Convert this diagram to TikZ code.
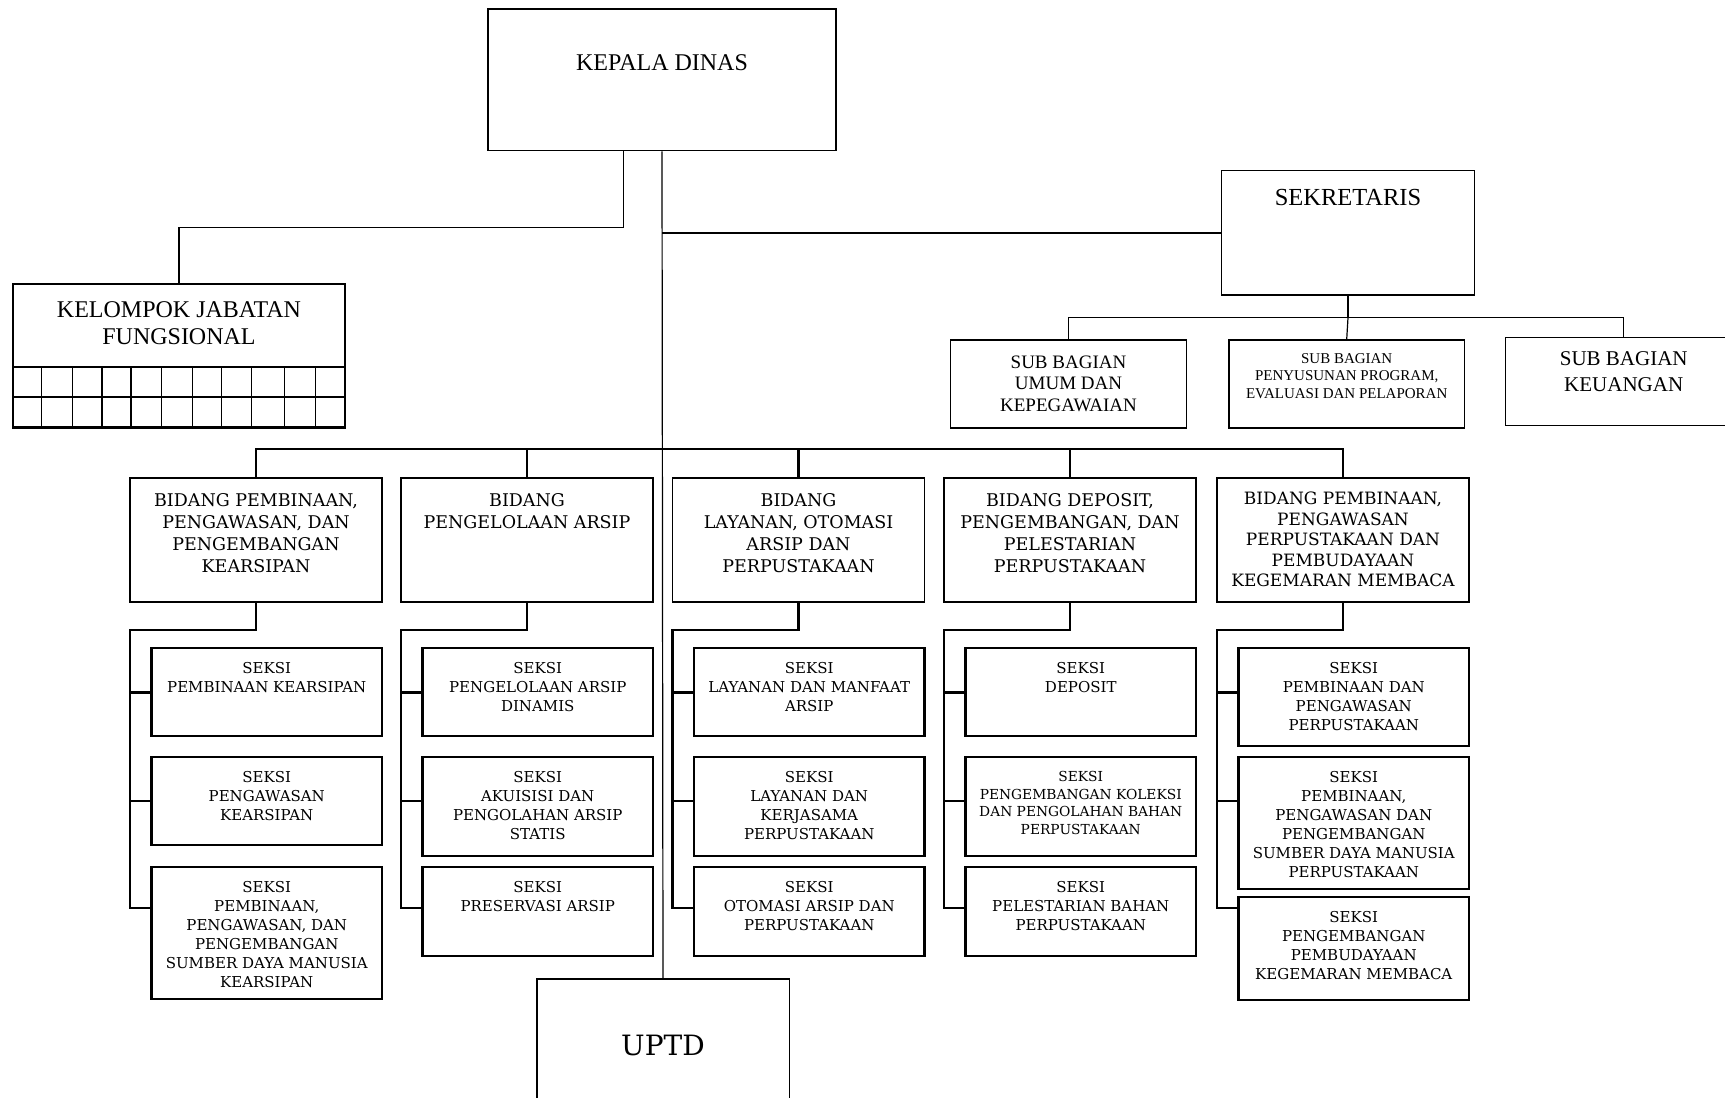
\documentclass[tikz,border=0pt]{standalone}
\usepackage{fontspec}
\usepackage{tikz}
\newfontfamily\tms{Liberation Serif}
\newfontfamily\dvs{DejaVu Serif}

\begin{document}
\begin{tikzpicture}[x=1pt,y=-1pt,
	tipis/.style={line width=1.2pt},
	tebal/.style={line width=2.2pt},
	kotak/.style={draw,line width=1.3pt,inner sep=0pt},
	bidang/.style={kotak,minimum width=252pt,minimum height=124pt},
	seksi/.style={draw,line width=2.2pt,inner sep=0pt,minimum width=230.5pt},
	teks/.style={anchor=north,align=center,inner sep=0pt},
	fb/.style={font=\dvs\fontsize{17.5}{21.9}\selectfont},
	fs/.style={font=\dvs\fontsize{15}{19}\selectfont}]
	\useasboundingbox (0,0) rectangle (1725,1098);
	\clip (0,0) rectangle (1725,1098);

	% pimpinan
	\node[kotak,minimum width=348pt,minimum height=141.7pt,
		label={[teks,yshift=-46pt,font=\tms\fontsize{24}{28}\selectfont]north:KEPALA DINAS}] (kd) at (662,79.8) {};
	\node[kotak,minimum width=332pt,minimum height=143pt,
		label={[teks,yshift=-18pt,font=\tms\fontsize{24}{27}\selectfont]north:{KELOMPOK JABATAN\\FUNGSIONAL}}] (kjf) at (179,355.5) {};
	\node[kotak,minimum width=252.7pt,minimum height=124.3pt,
		label={[teks,yshift=-19pt,font=\tms\fontsize{24.5}{28}\selectfont]north:SEKRETARIS}] (sek) at (1348,232.9) {};
	\node[kotak,minimum width=252.3pt,minimum height=132pt,font=\dvs\fontsize{28}{32}\selectfont] (uptd) at (663,1045) {UPTD};

	% kotak fungsional
	\draw[tebal] (kjf.west |- 0,367) -- (kjf.east |- 0,367);
	\draw[tipis] (kjf.west |- 0,397) -- (kjf.east |- 0,397);
	\draw[tebal] (kjf.south west) -- (kjf.south east);
	\foreach \x in {41.8,72.8,102,131,161.6,192.6,221.8,251.6,284.8,315.8}
		\draw[tipis] (\x,367) -- (\x,427);

	% sub bagian
	\node[kotak,minimum width=236pt,minimum height=88pt,
		label={[teks,yshift=-16pt,font=\tms\fontsize{19}{21.8}\selectfont]north:{SUB BAGIAN\\UMUM DAN\\KEPEGAWAIAN}}] (sb1) at (1068.5,384) {};
	\node[kotak,minimum width=235.4pt,minimum height=88pt,
		label={[teks,yshift=-14pt,font=\tms\fontsize{15}{17.5}\selectfont]north:{SUB BAGIAN\\PENYUSUNAN PROGRAM,\\EVALUASI DAN PELAPORAN}}] (sb2) at (1346.7,384) {};
	\node[kotak,minimum width=236pt,minimum height=88.4pt,
		label={[teks,yshift=-15pt,font=\tms\fontsize{21}{26}\selectfont]north:{SUB BAGIAN\\KEUANGAN}}] (sb3) at (1623.7,381.5) {};

	% bidang
	\node[bidang,label={[teks,fb,yshift=-16.3pt]north:{BIDANG PEMBINAAN,\\PENGAWASAN, DAN\\PENGEMBANGAN\\KEARSIPAN}}] (b1) at (256,540) {};
	\node[bidang,label={[teks,fb,yshift=-16.3pt]north:{BIDANG\\PENGELOLAAN ARSIP}}] (b2) at (527,540) {};
	\node[bidang,label={[teks,fb,yshift=-16.3pt]north:{BIDANG\\LAYANAN, OTOMASI\\ARSIP DAN\\PERPUSTAKAAN}}] (b3) at (798.5,540) {};
	\node[bidang,label={[teks,fb,yshift=-16.3pt]north:{BIDANG DEPOSIT,\\PENGEMBANGAN, DAN\\PELESTARIAN\\PERPUSTAKAAN}}] (b4) at (1070,540) {};
	\node[bidang,label={[teks,yshift=-14.7pt,font=\dvs\fontsize{17}{20.5}\selectfont]north:{BIDANG PEMBINAAN,\\PENGAWASAN\\PERPUSTAKAAN DAN\\PEMBUDAYAAN\\KEGEMARAN MEMBACA}}] (b5) at (1343,540) {};

	% seksi
	\node[seksi,minimum height=88pt,label={[teks,fs,yshift=-15pt]north:{SEKSI\\PEMBINAAN KEARSIPAN}}] (s11) at (266.75,692) {};
	\node[seksi,minimum height=88pt,label={[teks,fs,yshift=-15pt]north:{SEKSI\\PENGAWASAN\\KEARSIPAN}}] (s12) at (266.75,801) {};
	\node[seksi,minimum height=132pt,label={[teks,fs,yshift=-15pt]north:{SEKSI\\PEMBINAAN,\\PENGAWASAN, DAN\\PENGEMBANGAN\\SUMBER DAYA MANUSIA\\KEARSIPAN}}] (s13) at (266.75,933) {};

	\node[seksi,minimum height=88pt,label={[teks,fs,yshift=-15pt]north:{SEKSI\\PENGELOLAAN ARSIP\\DINAMIS}}] (s21) at (537.75,692) {};
	\node[seksi,minimum height=99pt,label={[teks,fs,yshift=-15pt]north:{SEKSI\\AKUISISI DAN\\PENGOLAHAN ARSIP\\STATIS}}] (s22) at (537.75,806.5) {};
	\node[seksi,minimum height=89pt,label={[teks,fs,yshift=-15pt]north:{SEKSI\\PRESERVASI ARSIP}}] (s23) at (537.75,911.5) {};

	\node[seksi,minimum height=88pt,label={[teks,fs,yshift=-15pt]north:{SEKSI\\LAYANAN DAN MANFAAT\\ARSIP}}] (s31) at (809.25,692) {};
	\node[seksi,minimum height=99pt,label={[teks,fs,yshift=-15pt]north:{SEKSI\\LAYANAN DAN\\KERJASAMA\\PERPUSTAKAAN}}] (s32) at (809.25,806.5) {};
	\node[seksi,minimum height=89pt,label={[teks,fs,yshift=-15pt]north:{SEKSI\\OTOMASI ARSIP DAN\\PERPUSTAKAAN}}] (s33) at (809.25,911.5) {};

	\node[seksi,minimum height=88pt,label={[teks,fs,yshift=-15pt]north:{SEKSI\\DEPOSIT}}] (s41) at (1080.75,692) {};
	\node[seksi,minimum height=99pt,label={[teks,yshift=-15pt,font=\dvs\fontsize{13.8}{17.8}\selectfont]north:{SEKSI\\PENGEMBANGAN KOLEKSI\\DAN PENGOLAHAN BAHAN\\PERPUSTAKAAN}}] (s42) at (1080.75,806.5) {};
	\node[seksi,minimum height=89pt,label={[teks,fs,yshift=-15pt]north:{SEKSI\\PELESTARIAN BAHAN\\PERPUSTAKAAN}}] (s43) at (1080.75,911.5) {};

	\node[seksi,minimum height=98pt,label={[teks,fs,yshift=-15pt]north:{SEKSI\\PEMBINAAN DAN\\PENGAWASAN\\PERPUSTAKAAN}}] (s51) at (1353.75,697) {};
	\node[seksi,minimum height=132pt,label={[teks,fs,yshift=-15pt]north:{SEKSI\\PEMBINAAN,\\PENGAWASAN DAN\\PENGEMBANGAN\\SUMBER DAYA MANUSIA\\PERPUSTAKAAN}}] (s52) at (1353.75,823) {};
	\node[seksi,minimum height=103pt,label={[teks,fs,yshift=-15pt]north:{SEKSI\\PENGEMBANGAN\\PEMBUDAYAAN\\KEGEMARAN MEMBACA}}] (s53) at (1353.75,948.5) {};

	% garis
	\draw[tipis] (kd.south) -- (uptd.north);
	\draw[tipis] ([xshift=-38.5pt]kd.south) -- ++(0,76) -| (kjf.north);
	\draw[tipis] (kd.south |- sek.west) -- (sek.west);

	\coordinate (sk) at (1348,317.7);
	\draw[tipis] (sek.south) -- (sk);
	\draw[tipis] (sb1.north) |- (sk) -| (sb3.north);
	\draw[tipis] (sk) -- (sb2.north);

	\draw[tebal] (b1.north) |- (b5.north |- 0,449) -- (b5.north);
	\foreach \g in {2,3,4}
		\draw[tebal] (b\g.north) -- (b\g.north |- 0,449);

	\foreach \g/\L in {1/130,2/401,3/672.5,4/944,5/1217}{
		\coordinate (k\g) at (\L,629.6);
		\draw[tebal] (b\g.south) |- (k\g) |- (s\g3.west |- 0,908);
		\draw[tebal] (k\g |- 0,692.5) -- (s\g1.west |- 0,692.5);
		\draw[tebal] (k\g |- 0,800.7) -- (s\g2.west |- 0,800.7);
	}
\end{tikzpicture}
\end{document}
